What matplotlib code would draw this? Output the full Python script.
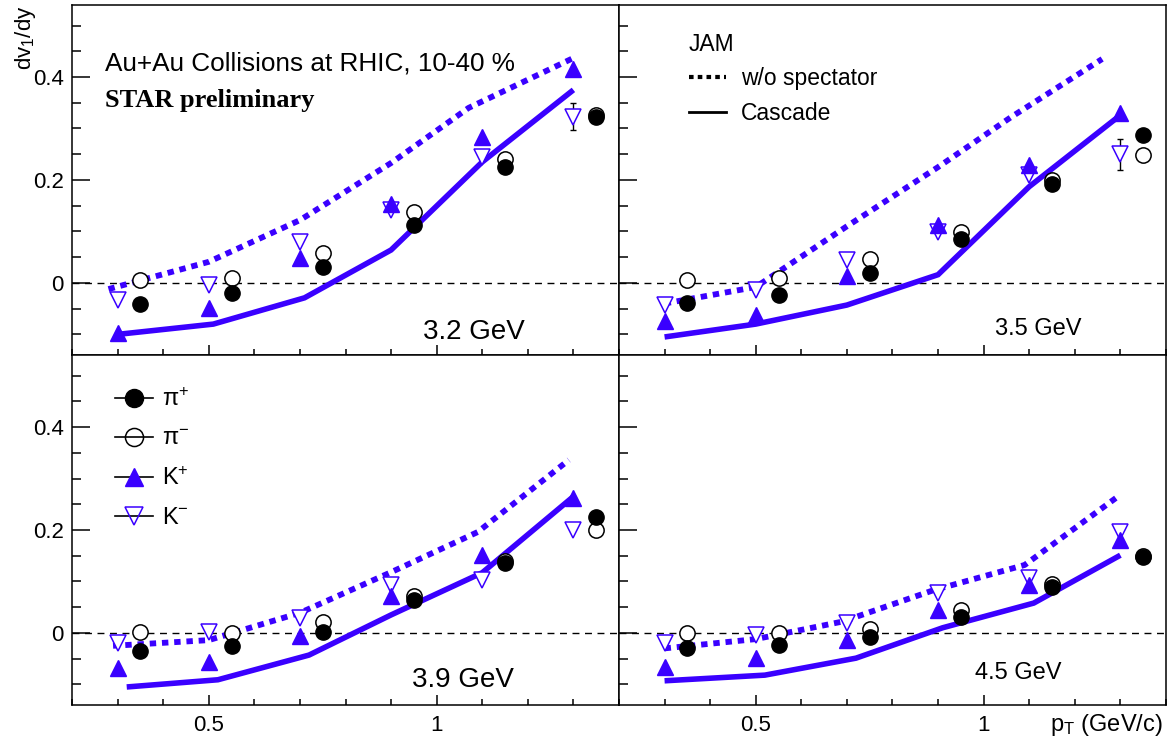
import matplotlib
matplotlib.use("Agg")
import matplotlib.pyplot as plt
from matplotlib.lines import Line2D
from matplotlib.ticker import MultipleLocator, FixedLocator

plt.rcParams['font.family'] = ['Liberation Sans', 'DejaVu Sans']
plt.rcParams['mathtext.fontset'] = 'custom'
plt.rcParams['mathtext.rm'] = 'Liberation Sans'
plt.rcParams['mathtext.it'] = 'Liberation Sans:italic'

BLUE = '#3a00ff'

# pT bin centres of the measured points
pt_kaon = [0.3, 0.5, 0.7, 0.9, 1.1, 1.3]
pt_pion = [0.35, 0.55, 0.75, 0.95, 1.15, 1.35]

energies = ['3.2 GeV', '3.5 GeV', '3.9 GeV', '4.5 GeV']

# STAR data, dv1/dy
kplus = [
    [-0.097, -0.049, 0.049, 0.153, 0.283, 0.415],
    [-0.074, -0.063, 0.014, 0.113, 0.229, 0.330],
    [-0.068, -0.056, -0.006, 0.072, 0.151, 0.262],
    [-0.066, -0.049, -0.014, 0.045, 0.093, 0.180],
]
kminus = [
    [-0.033, -0.004, 0.080, 0.142, 0.245, 0.323],
    [-0.043, -0.014, 0.045, 0.099, 0.210, 0.250],
    [-0.020, 0.002, 0.029, 0.093, 0.103, 0.200],
    [-0.020, -0.004, 0.019, 0.077, 0.106, 0.196],
]
kminus_err = [
    [0, 0, 0, 0, 0, 0.026],
    [0, 0, 0, 0, 0, 0.030],
    [0, 0, 0, 0, 0, 0],
    [0, 0, 0, 0, 0, 0],
]
piplus = [
    [-0.041, -0.020, 0.030, 0.113, 0.226, 0.323],
    [-0.039, -0.023, 0.019, 0.085, 0.192, 0.287],
    [-0.035, -0.025, 0.002, 0.064, 0.136, 0.225],
    [-0.030, -0.024, -0.008, 0.031, 0.090, 0.148],
]
piminus = [
    [0.006, 0.010, 0.058, 0.138, 0.240, 0.326],
    [0.006, 0.010, 0.047, 0.099, 0.200, 0.249],
    [0.002, 0.000, 0.021, 0.072, 0.140, 0.200],
    [0.000, 0.000, 0.008, 0.045, 0.095, 0.150],
]

# JAM model curves
cascade_x = [
    [0.30, 0.51, 0.71, 0.90, 1.10, 1.30],
    [0.30, 0.50, 0.70, 0.90, 1.10, 1.30],
    [0.32, 0.52, 0.72, 0.90, 1.10, 1.30],
    [0.30, 0.52, 0.72, 0.91, 1.11, 1.30],
]
cascade_y = [
    [-0.100, -0.080, -0.029, 0.064, 0.235, 0.375],
    [-0.105, -0.080, -0.043, 0.016, 0.187, 0.326],
    [-0.105, -0.091, -0.043, 0.035, 0.117, 0.265],
    [-0.093, -0.082, -0.049, 0.010, 0.058, 0.151],
]
nospec_x = [
    [0.28, 0.50, 0.70, 0.90, 1.07, 1.30],
    [0.30, 0.50, 0.70, 0.90, 1.06, 1.26],
    [0.29, 0.50, 0.70, 0.90, 1.09, 1.29],
    [0.30, 0.50, 0.69, 0.89, 1.09, 1.29],
]
nospec_y = [
    [-0.012, 0.041, 0.122, 0.233, 0.340, 0.437],
    [-0.040, -0.008, 0.110, 0.225, 0.322, 0.435],
    [-0.025, -0.014, 0.039, 0.118, 0.196, 0.336],
    [-0.030, -0.012, 0.022, 0.083, 0.132, 0.262],
]

# label placement per panel (axes fraction, fontsize)
energy_pos = [(0.642, 0.046, 20), (0.687, 0.057, 17), (0.622, 0.051, 20), (0.651, 0.074, 17)]

fig, axes = plt.subplots(2, 2, figsize=(11.75, 7.41), dpi=100, sharex=True, sharey=True)
fig.subplots_adjust(left=0.0613, right=0.9923, bottom=0.0486, top=0.9933, wspace=0, hspace=0)

for i, ax in enumerate(axes.flat):
    ax.axhline(0, color='black', lw=1.0, ls=(0, (5, 4)), zorder=1)
    ax.plot(nospec_x[i], nospec_y[i], color=BLUE, lw=4.2, dashes=(1.1, 1.0),
            dash_capstyle='butt', zorder=2)
    ax.plot(cascade_x[i], cascade_y[i], color=BLUE, lw=4, zorder=2,
            solid_capstyle='butt', solid_joinstyle='miter')

    # error bars where visible
    ex = [x for x, e in zip(pt_kaon, kminus_err[i]) if e > 0]
    ey = [y for y, e in zip(kminus[i], kminus_err[i]) if e > 0]
    ee = [e for e in kminus_err[i] if e > 0]
    if ex:
        ax.errorbar(ex, ey, yerr=ee, fmt='none', ecolor='black', elinewidth=1,
                    capsize=2.5, zorder=3)

    ax.plot(pt_kaon, kminus[i], ls='none', marker='v', ms=11, mfc='white',
            mec=BLUE, mew=1.1, zorder=4)
    ax.plot(pt_kaon, kplus[i], ls='none', marker='^', ms=11, mfc=BLUE,
            mec=BLUE, zorder=5)
    ax.plot(pt_pion, piminus[i], ls='none', marker='o', ms=11, mfc='white',
            mec='black', mew=1.1, zorder=4)
    ax.plot(pt_pion, piplus[i], ls='none', marker='o', ms=11, mfc='black',
            mec='black', zorder=5)

    ex_, ey_, fs = energy_pos[i]
    ax.text(ex_, ey_, energies[i], transform=ax.transAxes, fontsize=fs,
            va='baseline', ha='left')

    ax.set_xlim(0.2, 1.4)
    ax.set_ylim(-0.14, 0.54)
    ax.xaxis.set_major_locator(FixedLocator([0.5, 1.0]))
    ax.xaxis.set_minor_locator(MultipleLocator(0.1))
    ax.yaxis.set_major_locator(FixedLocator([0, 0.2, 0.4]))
    ax.yaxis.set_minor_locator(MultipleLocator(0.05))
    ax.tick_params(axis='y', which='major', direction='in', length=13, width=1.1,
                   labelsize=16, pad=6)
    ax.tick_params(axis='y', which='minor', direction='in', length=6.5, width=1.1)
    ax.tick_params(axis='x', which='major', direction='in', length=7, width=1.1,
                   labelsize=16, pad=7)
    ax.tick_params(axis='x', which='minor', direction='in', length=4.5, width=1.1)
    for s in ax.spines.values():
        s.set_linewidth(1.1)

axes[1, 0].set_xticklabels(['0.5', '1'])
axes[1, 0].set_yticklabels(['0', '0.2', '0.4'])

ax0 = axes[0, 0]
ax0.text(0.060, 0.814, 'Au+Au Collisions at RHIC, 10-40 %', transform=ax0.transAxes,
         fontsize=18.8, va='baseline')
ax0.text(0.060, 0.709, 'STAR preliminary', transform=ax0.transAxes,
         fontsize=19, fontweight='bold', family='Liberation Serif', va='baseline')

# JAM legend
jam_handles = [
    Line2D([], [], color='black', lw=3, dashes=(1.1, 1.0), dash_capstyle='butt'),
    Line2D([], [], color='black', lw=2),
]
axes[0, 1].legend(jam_handles, ['w/o spectator', 'Cascade'], title='JAM',
                  loc='upper left', bbox_to_anchor=(0.128, 0.92), frameon=False,
                  fontsize=16.5, title_fontsize=16.5, handlelength=1.6,
                  handletextpad=0.65, labelspacing=0.5, borderpad=0,
                  borderaxespad=0, alignment='left')

# particle legend
p_handles = [
    Line2D([], [], color='black', lw=1.2, marker='o', ms=13, mfc='black', mec='black'),
    Line2D([], [], color='black', lw=1.2, marker='o', ms=13, mfc='none', mec='black', mew=1.1),
    Line2D([], [], color='black', lw=1.2, marker='^', ms=13, mfc=BLUE, mec=BLUE),
    Line2D([], [], color='black', lw=1.2, marker='v', ms=13, mfc='none', mec=BLUE, mew=1.1),
]
axes[1, 0].legend(p_handles, ['π$^{+}$', 'π$^{\\mathrm{-}}$', 'K$^{+}$', 'K$^{\\mathrm{-}}$'],
                  loc='upper left', bbox_to_anchor=(0.079, 0.905), frameon=False,
                  fontsize=17, handlelength=1.6, handletextpad=0.4, labelspacing=0.72,
                  borderpad=0, borderaxespad=0)

fig.text(0.022, 0.993, 'dv$_{1}$/dy', rotation=90, ha='center', va='top', fontsize=16)
fig.text(1163 / 1175, 0.013, 'p$_{\\mathrm{T}}$ (GeV/c)', ha='right', va='baseline',
         fontsize=17)

fig.savefig('out.png', dpi=100)
